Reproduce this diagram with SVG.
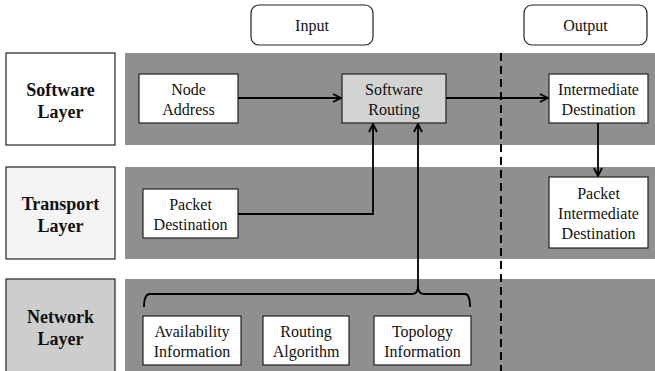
<svg xmlns="http://www.w3.org/2000/svg" width="655" height="371" viewBox="0 0 655 371">
  <defs>
    <marker id="chev" viewBox="0 0 10 10" refX="9" refY="5" markerWidth="10" markerHeight="10" markerUnits="userSpaceOnUse" orient="auto">
      <path d="M1,1 L9,5 L1,9" fill="none" stroke="#000" stroke-width="1.8"/>
    </marker>
    <style>
      .band { fill: #8f8f8f; }
      .box { stroke: #222; stroke-width: 1.2; }
      .node { fill: #fff; }
      text { font-family: 'Liberation Serif', 'Times New Roman', Times, 'DejaVu Serif', serif; }
      .t { font-size: 16px; fill: #111; text-anchor: middle; }
      .lt { font-size: 18px; font-weight: bold; fill: #111; text-anchor: middle; }
      .wire { fill: none; stroke: #000; stroke-width: 1.8; }
    </style>
  </defs>

  <rect width="655" height="371" fill="#fff"/>

  <!-- layer bands -->
  <rect class="band" x="125" y="53" width="530" height="92"/>
  <rect class="band" x="125" y="167" width="530" height="92"/>
  <rect class="band" x="125" y="279" width="530" height="92"/>

  <!-- column headers -->
  <g id="input">
    <rect x="251" y="5" width="122" height="40" rx="8" fill="#fff" class="box"/>
    <text class="t" x="312" y="31">Input</text>
  </g>
  <g id="output">
    <rect x="524" y="5" width="123" height="40" rx="8" fill="#fff" class="box"/>
    <text class="t" x="585.5" y="31">Output</text>
  </g>

  <!-- layer labels -->
  <g id="software-layer">
    <rect x="6" y="53" width="109" height="92" fill="#fff" class="box"/>
    <text class="lt" x="60.5" y="96">Software</text>
    <text class="lt" x="60.5" y="118">Layer</text>
  </g>
  <g id="transport-layer">
    <rect x="6" y="167" width="109" height="92" fill="#f4f4f4" class="box"/>
    <text class="lt" x="60.5" y="210">Transport</text>
    <text class="lt" x="60.5" y="232">Layer</text>
  </g>
  <g id="network-layer">
    <rect x="6" y="279" width="109" height="100" fill="#cdcdcd" class="box"/>
    <text class="lt" x="60.5" y="323">Network</text>
    <text class="lt" x="60.5" y="345">Layer</text>
  </g>

  <!-- nodes -->
  <g id="node-address">
    <rect x="139" y="74" width="99" height="49" class="box node"/>
    <text class="t" x="188.5" y="95">Node</text>
    <text class="t" x="188.5" y="115">Address</text>
  </g>
  <g id="software-routing">
    <rect x="342" y="74" width="104" height="49" fill="#d3d3d3" class="box"/>
    <text class="t" x="394" y="95">Software</text>
    <text class="t" x="394" y="115">Routing</text>
  </g>
  <g id="intermediate-destination">
    <rect x="549" y="74" width="99" height="49" class="box node"/>
    <text class="t" x="598.5" y="95">Intermediate</text>
    <text class="t" x="598.5" y="115">Destination</text>
  </g>
  <g id="packet-destination">
    <rect x="143" y="189" width="95" height="49" class="box node"/>
    <text class="t" x="190.5" y="210">Packet</text>
    <text class="t" x="190.5" y="230">Destination</text>
  </g>
  <g id="packet-intermediate-destination">
    <rect x="549" y="177" width="99" height="71" class="box node"/>
    <text class="t" x="598.5" y="199">Packet</text>
    <text class="t" x="598.5" y="219">Intermediate</text>
    <text class="t" x="598.5" y="239">Destination</text>
  </g>
  <g id="availability-information">
    <rect x="143" y="316" width="98" height="49" class="box node"/>
    <text class="t" x="192" y="337">Availability</text>
    <text class="t" x="192" y="357">Information</text>
  </g>
  <g id="routing-algorithm">
    <rect x="263" y="316" width="86" height="49" class="box node"/>
    <text class="t" x="306" y="337">Routing</text>
    <text class="t" x="306" y="357">Algorithm</text>
  </g>
  <g id="topology-information">
    <rect x="374" y="316" width="97" height="49" class="box node"/>
    <text class="t" x="422.5" y="337">Topology</text>
    <text class="t" x="422.5" y="357">Information</text>
  </g>

  <!-- connectors -->
  <g id="connectors">
    <line x1="501" y1="53" x2="501" y2="371" stroke="#000" stroke-width="2" stroke-dasharray="8,5"/>
    <line class="wire" x1="238" y1="98" x2="341" y2="98" marker-end="url(#chev)"/>
    <line class="wire" x1="446" y1="98" x2="548" y2="98" marker-end="url(#chev)"/>
    <line class="wire" x1="598" y1="123" x2="598" y2="176" marker-end="url(#chev)"/>
    <polyline class="wire" points="238,214 373,214 373,124" marker-end="url(#chev)"/>
    <line class="wire" x1="418" y1="286" x2="418" y2="124" marker-end="url(#chev)"/>
    <!-- brace grouping the network-layer inputs -->
    <path class="wire" d="M144,307 Q144,294 150,294 L412,294 Q418,294 418,286 Q418,294 424,294 L465,294 Q470,294 470,307"/>
  </g>
</svg>
